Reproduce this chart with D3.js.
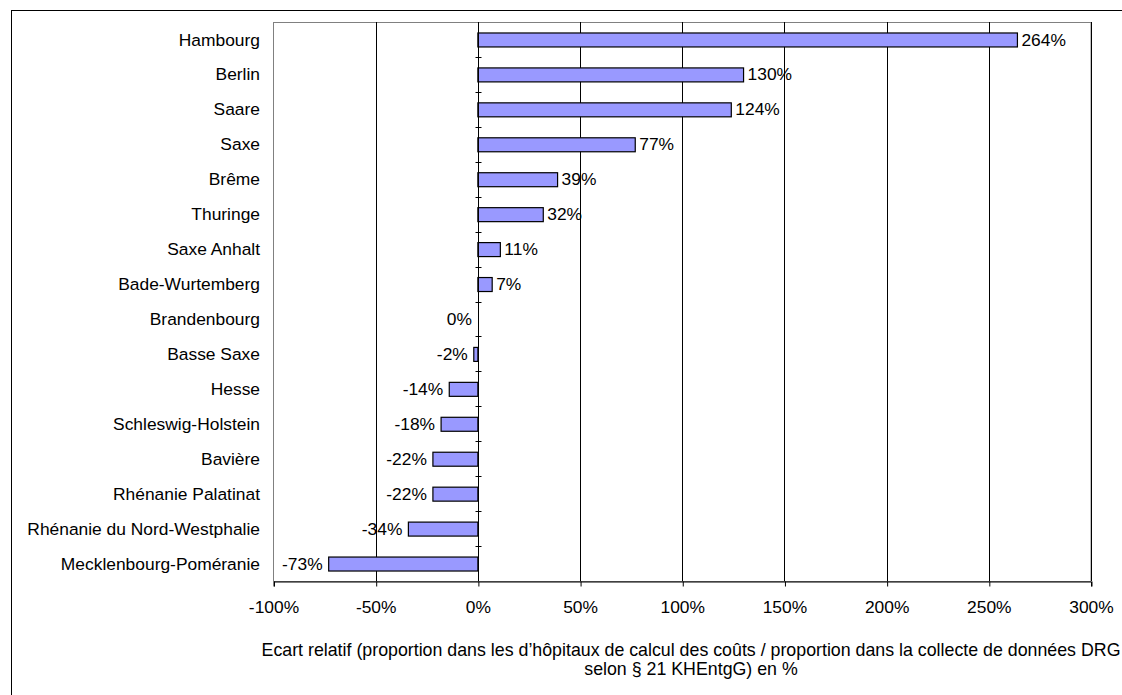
<!DOCTYPE html>
<html>
<head>
<meta charset="utf-8">
<script src="https://cdn.jsdelivr.net/npm/d3@7"></script>
<style>
  html, body { margin: 0; padding: 0; background: #fff; }
  svg { display: block; font-family: "Liberation Sans", Arial, sans-serif; }
</style>
</head>
<body>
<svg id="chart" width="1122" height="695"></svg>
<script>
// Länder, ordered top to bottom
const categories = [
  "Hambourg", "Berlin", "Saare", "Saxe", "Brême", "Thuringe", "Saxe Anhalt",
  "Bade-Wurtemberg", "Brandenbourg", "Basse Saxe", "Hesse", "Schleswig-Holstein",
  "Bavière", "Rhénanie Palatinat", "Rhénanie du Nord-Westphalie", "Mecklenbourg-Poméranie"
];
// relative deviation, percent
const values = [264, 130, 124, 77, 39, 32, 11, 7, 0, -2, -14, -18, -22, -22, -34, -73];
const xTicks = [-100, -50, 0, 50, 100, 150, 200, 250, 300];
const axisTitle = [
  "Ecart relatif (proportion dans les d\u2019hôpitaux de calcul des coûts / proportion dans la collecte de données DRG",
  "selon § 21 KHEntgG) en %"
];

const FS = 17.4;
const FS_TITLE = 17.8;
const svg = d3.select("#chart");
const plot = { left: 273.5, right: 1091, top: 22, bottom: 581 };

// outer frame
svg.append("rect")
  .attr("x", 11.5).attr("y", 10.5)
  .attr("width", 1130).attr("height", 700)
  .attr("fill", "none").attr("stroke", "#000").attr("stroke-width", 1);

const x = d3.scaleLinear().domain([-100, 300]).range([plot.left, plot.right]);
const y = d3.scaleBand().domain(categories).range([plot.top, plot.bottom]).paddingInner(0.6).paddingOuter(0.3);
const yb = d3.scaleBand().domain(categories).range([plot.top, plot.bottom]);

// plot area border
svg.append("rect")
  .attr("x", plot.left).attr("y", plot.top + 0.5)
  .attr("width", plot.right - plot.left).attr("height", plot.bottom - plot.top)
  .attr("fill", "none").attr("stroke", "#808080").attr("stroke-width", 1);

// vertical gridlines
svg.append("g").selectAll("line")
  .data(xTicks.filter(t => t !== -100))
  .join("line")
  .attr("x1", d => Math.round(x(d)) + 0.5).attr("x2", d => Math.round(x(d)) + 0.5)
  .attr("y1", plot.top).attr("y2", plot.bottom)
  .attr("stroke", "#000").attr("stroke-width", 1);

// bottom axis
const xAxis = d3.axisBottom(x).tickValues(xTicks).tickFormat(d => d + "%").tickSizeOuter(0).tickSize(5).tickPadding(14);
const gx = svg.append("g").attr("transform", `translate(0,${plot.bottom + 0.5})`).call(xAxis);
gx.select(".domain").attr("stroke", "#000");
gx.selectAll(".tick line").attr("stroke", "#000").attr("transform", "translate(0.5,0)");
gx.selectAll("text").attr("font-size", FS).attr("fill", "#000")
  .attr("font-family", "Liberation Sans, Arial, sans-serif");

// bars
svg.append("g").selectAll("rect")
  .data(values)
  .join("rect")
  .attr("x", d => x(Math.min(0, d)))
  .attr("width", d => Math.abs(x(d) - x(0)))
  .attr("y", (d, i) => y(categories[i]) + 0.5)
  .attr("height", y.bandwidth())
  .attr("fill", "#9999FF")
  .attr("stroke", "#000")
  .attr("stroke-width", 1.2);

// category axis at zero
const x0 = Math.round(x(0)) + 0.5;
svg.append("line").attr("x1", x0).attr("x2", x0).attr("y1", plot.top).attr("y2", plot.bottom)
  .attr("stroke", "#000");
svg.append("g").selectAll("line")
  .data(categories.slice(1))
  .join("line")
  .attr("x1", x0 - 3).attr("x2", x0 + 3)
  .attr("y1", d => Math.round(yb(d)) + 0.5).attr("y2", d => Math.round(yb(d)) + 0.5)
  .attr("stroke", "#000");

// category labels
svg.append("g").selectAll("text")
  .data(categories)
  .join("text")
  .attr("x", 260)
  .attr("y", d => yb(d) + yb.bandwidth() / 2)
  .attr("dy", "0.35em")
  .attr("text-anchor", "end")
  .attr("font-size", FS)
  .text(d => d);

// value labels
svg.append("g").selectAll("text")
  .data(values)
  .join("text")
  .attr("x", d => d > 0 ? x(d) + 4 : x(Math.min(0, d)) - 6)
  .attr("y", (d, i) => yb(categories[i]) + yb.bandwidth() / 2)
  .attr("dy", "0.35em")
  .attr("text-anchor", d => d > 0 ? "start" : "end")
  .attr("font-size", FS)
  .text(d => d + "%");

// axis title
svg.append("g").selectAll("text")
  .data(axisTitle)
  .join("text")
  .attr("x", 691)
  .attr("y", (d, i) => 655.5 + i * 19.5)
  .attr("text-anchor", "middle")
  .attr("font-size", FS_TITLE)
  .text(d => d);
</script>
</body>
</html>
